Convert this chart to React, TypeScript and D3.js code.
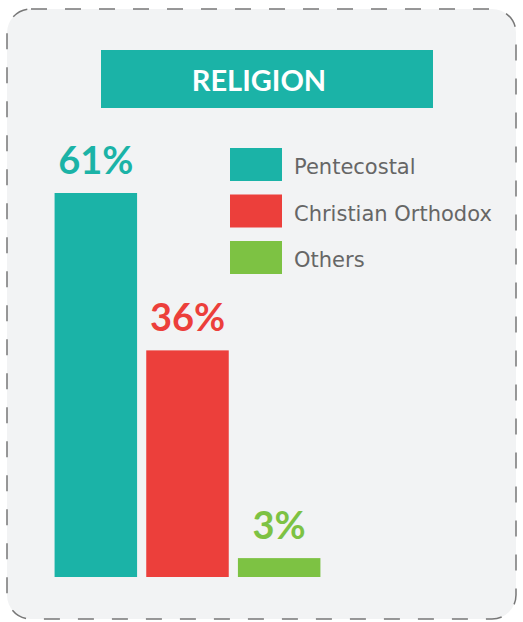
import React, { useEffect, useRef } from 'react';
import * as d3 from 'd3';

const categories = ['Pentecostal', 'Christian Orthodox', 'Others'];
const shares = [61, 36, 3];
const colors = ['#1bb3a7', '#ec3f3b', '#7dc243'];
const title = 'RELIGION';

const W = 523;
const H = 622;
const FONT = "Lato, 'Open Sans', sans-serif";

function App() {
  const svgRef = useRef<SVGSVGElement>(null);

  useEffect(() => {
    const svg = d3.select(svgRef.current);
    svg.selectAll('*').remove();

    // card
    svg.append('rect')
      .attr('x', 7).attr('y', 9)
      .attr('width', W - 14).attr('height', H - 12)
      .attr('rx', 24)
      .attr('fill', '#f2f3f4')
      .attr('stroke', '#777')
      .attr('stroke-width', 1.5)
      .attr('stroke-dasharray', '16 18');

    // title band
    svg.append('rect')
      .attr('x', 101).attr('y', 50)
      .attr('width', 332).attr('height', 58)
      .attr('fill', colors[0]);
    svg.append('text')
      .attr('x', 259).attr('y', 91)
      .attr('text-anchor', 'middle')
      .attr('fill', '#fff')
      .attr('font-family', FONT)
      .attr('font-weight', 700)
      .attr('font-size', 29)
      .text(title);

    const x = d3.scaleBand<string>()
      .domain(categories)
      .range([50, 325])
      .paddingInner(0.1)
      .paddingOuter(0.05);
    const y = d3.scaleLinear()
      .domain([0, d3.max(shares) as number])
      .range([577, 193]);

    const g = svg.append('g');
    g.selectAll('rect.bar')
      .data(categories)
      .join('rect')
      .attr('class', 'bar')
      .attr('x', d => x(d) as number)
      .attr('y', (d, i) => y(shares[i]))
      .attr('width', x.bandwidth())
      .attr('height', (d, i) => y(0) - y(shares[i]))
      .attr('fill', (d, i) => colors[i]);

    g.selectAll('text.val')
      .data(categories)
      .join('text')
      .attr('class', 'val')
      .attr('x', d => (x(d) as number) + x.bandwidth() / 2)
      .attr('y', (d, i) => y(shares[i]) - 19)
      .attr('text-anchor', 'middle')
      .attr('fill', (d, i) => colors[i])
      .attr('font-family', FONT)
      .attr('font-weight', 700)
      .attr('font-size', 38)
      .text((d, i) => shares[i] + '%');

    // legend
    const leg = svg.append('g');
    const ly = d3.scalePoint<string>().domain(categories).range([148, 241]);
    leg.selectAll('rect')
      .data(categories)
      .join('rect')
      .attr('x', 230)
      .attr('y', d => ly(d) as number)
      .attr('width', 52)
      .attr('height', 33)
      .attr('fill', (d, i) => colors[i]);
    leg.selectAll('text')
      .data(categories)
      .join('text')
      .attr('x', 294)
      .attr('y', d => (ly(d) as number) + 26)
      .attr('fill', '#666')
      .attr('font-family', "'DejaVu Sans', sans-serif")
      .attr('font-size', 21)
      .text(d => d);
  }, []);

  return (
    <svg
      ref={svgRef}
      width={W}
      height={H}
      style={{ position: 'absolute', left: 0, top: 0 }}
    />
  );
}

export default App;
